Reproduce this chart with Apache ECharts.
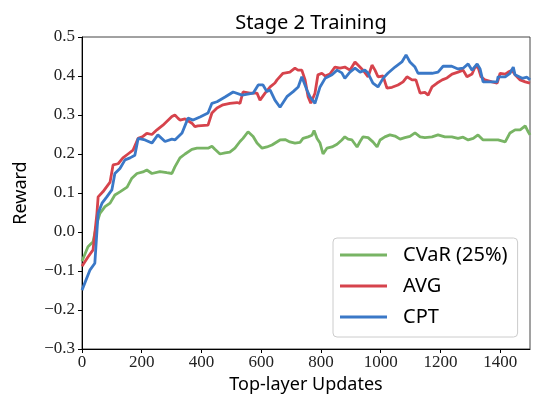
<!DOCTYPE html>
<html>
<head>
<meta charset="utf-8">
<script src="https://cdn.jsdelivr.net/npm/echarts@6/dist/echarts.min.js"></script>
<style>
  html, body { margin: 0; padding: 0; background: #fff; }
  #chart { width: 539px; height: 399px; }
</style>
</head>
<body>
<div id="chart"></div>
<script>
// tick values
const xTicks = [0, 200, 400, 600, 800, 1000, 1200, 1400]
const seriesNames = ['CVaR (25%)', 'AVG', 'CPT']

// [update, reward]
const cvarPoints = [
  [0,-0.075],[20,-0.038],[37,-0.025],[50,0.023],[60,0.048],[77,0.065],[94,0.074],[110,0.095],
  [127,0.103],[151,0.115],[167,0.138],[184,0.150],[204,0.154],[217,0.159],[234,0.150],[261,0.155],
  [284,0.152],[301,0.150],[311,0.167],[328,0.190],[345,0.200],[368,0.212],[385,0.215],[422,0.215],
  [435,0.220],[445,0.212],[462,0.200],[479,0.203],[495,0.205],[512,0.215],[529,0.232],[539,0.240],
  [556,0.257],[573,0.245],[586,0.228],[603,0.215],[619,0.218],[636,0.223],[663,0.236],[680,0.237],
  [696,0.231],[713,0.228],[730,0.230],[740,0.240],[757,0.244],[770,0.248],[777,0.260],[787,0.240],
  [797,0.228],[807,0.200],[820,0.215],[837,0.218],[854,0.225],[870,0.236],[880,0.244],[891,0.238],
  [904,0.236],[921,0.218],[931,0.232],[941,0.244],[958,0.242],[974,0.231],[988,0.218],[998,0.236],
  [1014,0.244],[1031,0.249],[1048,0.246],[1065,0.238],[1081,0.242],[1098,0.245],[1115,0.254],[1132,0.244],
  [1148,0.242],[1172,0.244],[1192,0.249],[1215,0.244],[1238,0.244],[1259,0.240],[1276,0.243],[1293,0.236],
  [1310,0.240],[1326,0.249],[1343,0.236],[1373,0.236],[1393,0.236],[1417,0.231],[1433,0.254],[1450,0.262],
  [1467,0.262],[1484,0.272],[1494,0.257],[1500,0.249]
]
const avgPoints = [
  [0,-0.088],[20,-0.064],[37,-0.046],[50,0.048],[54,0.090],[70,0.103],[94,0.128],[104,0.172],
  [121,0.175],[137,0.190],[154,0.200],[171,0.210],[188,0.240],[204,0.245],[217,0.253],[234,0.250],
  [251,0.262],[271,0.274],[301,0.296],[311,0.300],[321,0.292],[328,0.287],[345,0.290],[368,0.279],
  [378,0.270],[388,0.272],[422,0.274],[435,0.305],[452,0.318],[472,0.326],[495,0.330],[519,0.332],
  [529,0.330],[539,0.359],[562,0.356],[586,0.356],[596,0.338],[613,0.356],[630,0.372],[646,0.382],
  [653,0.390],[673,0.407],[696,0.410],[713,0.420],[723,0.415],[736,0.415],[747,0.390],[757,0.347],
  [766,0.330],[780,0.356],[790,0.403],[803,0.407],[814,0.400],[830,0.405],[847,0.423],[864,0.420],
  [880,0.423],[897,0.415],[914,0.436],[924,0.428],[941,0.415],[958,0.398],[971,0.428],[981,0.415],
  [991,0.398],[1008,0.400],[1021,0.369],[1038,0.371],[1058,0.377],[1075,0.385],[1088,0.398],[1105,0.390],
  [1118,0.390],[1132,0.356],[1148,0.358],[1159,0.351],[1172,0.372],[1189,0.382],[1206,0.390],[1222,0.395],
  [1239,0.405],[1259,0.410],[1276,0.415],[1289,0.398],[1306,0.405],[1316,0.423],[1326,0.423],[1336,0.398],
  [1349,0.390],[1373,0.385],[1390,0.382],[1400,0.407],[1417,0.405],[1427,0.410],[1440,0.415],[1450,0.403],
  [1467,0.390],[1484,0.385],[1500,0.382]
]
const cptPoints = [
  [0,-0.149],[27,-0.097],[43,-0.080],[54,0.048],[67,0.074],[83,0.090],[100,0.108],[110,0.150],
  [127,0.163],[144,0.185],[161,0.190],[177,0.197],[188,0.240],[211,0.236],[234,0.228],[254,0.249],
  [278,0.232],[301,0.238],[311,0.236],[335,0.254],[355,0.292],[372,0.287],[395,0.295],[422,0.305],
  [435,0.330],[452,0.334],[479,0.346],[506,0.359],[536,0.351],[573,0.356],[590,0.377],[606,0.377],
  [619,0.360],[630,0.364],[646,0.338],[663,0.320],[686,0.347],[707,0.360],[724,0.372],[736,0.398],
  [753,0.364],[763,0.347],[780,0.330],[797,0.372],[814,0.394],[837,0.403],[854,0.415],[870,0.408],
  [880,0.394],[897,0.410],[914,0.420],[931,0.410],[947,0.415],[957,0.408],[974,0.382],[991,0.372],
  [1008,0.394],[1024,0.407],[1048,0.423],[1071,0.436],[1085,0.454],[1098,0.436],[1115,0.423],[1125,0.407],
  [1148,0.407],[1172,0.407],[1192,0.410],[1209,0.425],[1238,0.425],[1259,0.418],[1276,0.420],[1293,0.431],
  [1306,0.415],[1323,0.431],[1333,0.418],[1343,0.385],[1390,0.385],[1393,0.398],[1417,0.398],[1433,0.407],
  [1444,0.423],[1450,0.403],[1474,0.394],[1490,0.397],[1500,0.390]
]

const colors = ['#78b464', '#d6434c', '#3a78c7']
const serif = '"Liberation Serif", "DejaVu Serif", serif'
const sans = '"Noto Sans", "DejaVu Sans", sans-serif'

const chart = echarts.init(document.getElementById('chart'))

const option = {
  animation: false,
  color: colors,
  title: {
    text: 'Stage 2 Training',
    left: 306,
    top: 8,
    textAlign: 'center',
    textStyle: { fontFamily: sans, fontSize: 20, fontWeight: 'normal', color: '#000' }
  },
  grid: {
    left: 82, right: 9, top: 37, bottom: 50,
    show: true,
    borderColor: '#444',
    borderWidth: 1
  },
  legend: {
    orient: 'vertical',
    left: 333,
    top: 238,
    icon: 'rect',
    itemWidth: 47,
    itemHeight: 3,
    itemGap: 11,
    padding: [7, 10, 10, 7],
    backgroundColor: '#fff',
    borderColor: '#ccc',
    borderWidth: 1,
    borderRadius: 4,
    data: seriesNames,
    textStyle: {
      fontFamily: sans, fontSize: 20, color: '#000', lineHeight: 20,
      padding: [0, 0, 0, 11]
    }
  },
  xAxis: {
    type: 'value',
    min: 0,
    max: 1500,
    interval: 200,
    name: 'Top-layer Updates',
    nameLocation: 'middle',
    nameGap: 26,
    nameTextStyle: { fontFamily: sans, fontSize: 18, color: '#000' },
    axisLine: { show: true, onZero: false, lineStyle: { color: '#000', width: 1 } },
    axisTick: { show: true, inside: false, length: 4, lineStyle: { color: '#000' }, customValues: xTicks },
    axisLabel: {
      fontFamily: serif, fontSize: 17, color: '#222', margin: 5, customValues: xTicks,
      formatter: v => String(v)
    },
    splitLine: { show: false }
  },
  yAxis: {
    type: 'value',
    min: -0.3,
    max: 0.5,
    interval: 0.1,
    name: 'Reward',
    nameLocation: 'middle',
    nameGap: 52,
    nameTextStyle: { fontFamily: sans, fontSize: 18, color: '#000' },
    axisLine: { show: true, lineStyle: { color: '#000', width: 1 } },
    axisTick: { show: true, inside: false, length: 4, lineStyle: { color: '#000' } },
    axisLabel: {
      fontFamily: serif, fontSize: 17, color: '#222', margin: 7,
      formatter: v => v.toFixed(1).replace('-', '\u2212').replace('\u22120.0', '0.0')
    },
    splitLine: { show: false }
  },
  series: [
    { name: seriesNames[0], data: cvarPoints },
    { name: seriesNames[1], data: avgPoints },
    { name: seriesNames[2], data: cptPoints }
  ].map(s => ({
    ...s,
    type: 'line',
    showSymbol: false,
    symbol: 'none',
    lineStyle: { width: 2.8 }
  }))
}

chart.setOption(option)
</script>
</body>
</html>
